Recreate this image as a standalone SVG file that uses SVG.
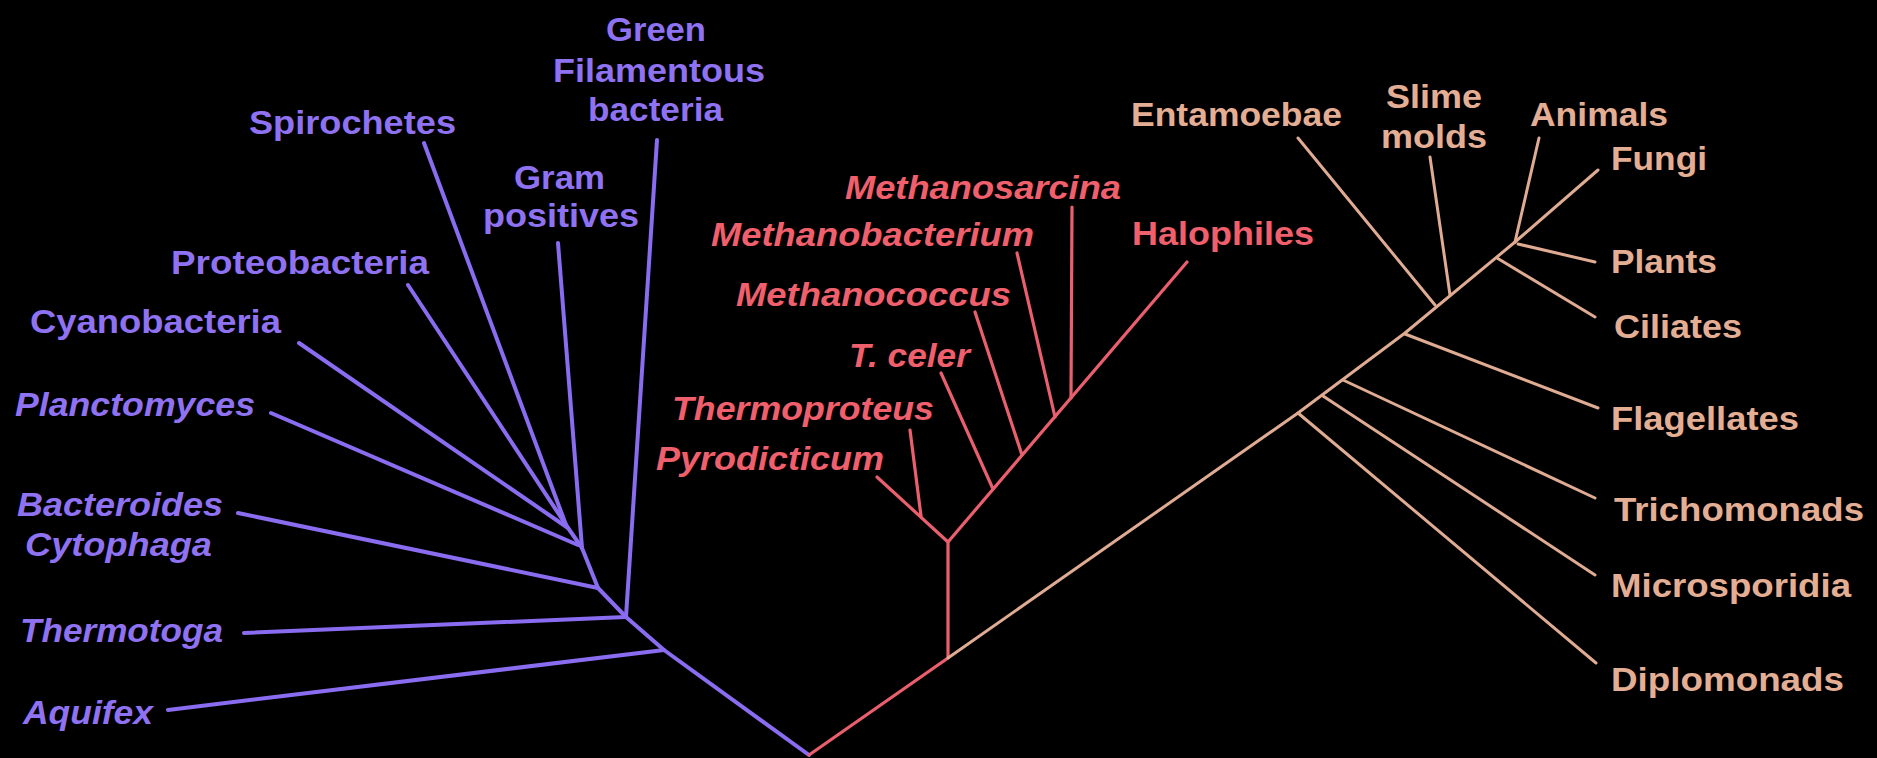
<svg xmlns="http://www.w3.org/2000/svg" width="1877" height="758" viewBox="0 0 1877 758">
<style>
text{font-family:"Liberation Sans",Arial,sans-serif;font-weight:bold;font-size:33px}
.i{font-style:italic}
.bac text{fill:#8f72f2}
.arc text{fill:#ef5f6c}
.euk text{fill:#e4ae94}
.lb{stroke:#8a6cf0;stroke-width:4;fill:none;stroke-linecap:round;stroke-linejoin:round}
.lr{stroke:#ea5f6e;stroke-width:3.2;fill:none;stroke-linecap:round;stroke-linejoin:round}
.le{stroke:#dfab92;stroke-width:3;fill:none;stroke-linecap:round;stroke-linejoin:round}
</style>
<rect width="1877" height="758" fill="#000"/>
<g id="connectors">
<polyline class="lb" points="809,755 664,650 626,617 598,588 582,548 566,525"/>
<line class="lb" x1="657" y1="140" x2="626" y2="617"/>
<line class="lb" x1="558" y1="243" x2="582" y2="548"/>
<line class="lb" x1="424" y1="143" x2="566" y2="525"/>
<line class="lb" x1="408" y1="285" x2="566" y2="525"/>
<line class="lb" x1="299" y1="343" x2="568" y2="528"/>
<line class="lb" x1="271" y1="413" x2="578" y2="545"/>
<line class="lb" x1="238" y1="513" x2="598" y2="588"/>
<line class="lb" x1="244" y1="633" x2="626" y2="617"/>
<line class="lb" x1="168" y1="710" x2="664" y2="650"/>
<polyline class="lr" points="809,755 948,658 948,542"/>
<polyline class="lr" points="877,477 948,542 1187,262"/>
<line class="lr" x1="910" y1="430" x2="921" y2="516"/>
<line class="lr" x1="941" y1="373" x2="993" y2="489"/>
<line class="lr" x1="975" y1="312" x2="1022" y2="455"/>
<line class="lr" x1="1017" y1="253" x2="1055" y2="417"/>
<line class="lr" x1="1072" y1="207" x2="1071" y2="398"/>
<polyline class="le" points="948,658 1298,413 1405,333 1515,242"/>
<line class="le" x1="1298" y1="138" x2="1435" y2="305"/>
<line class="le" x1="1430" y1="157" x2="1450" y2="295"/>
<line class="le" x1="1539" y1="138" x2="1515" y2="242"/>
<line class="le" x1="1598" y1="170" x2="1515" y2="242"/>
<line class="le" x1="1595" y1="262" x2="1518" y2="244"/>
<line class="le" x1="1595" y1="317" x2="1497" y2="258"/>
<line class="le" x1="1598" y1="408" x2="1405" y2="334"/>
<line class="le" x1="1595" y1="498" x2="1343" y2="380"/>
<line class="le" x1="1595" y1="575" x2="1323" y2="396"/>
<line class="le" x1="1596" y1="663" x2="1298" y2="413"/>
</g>
<g class="bac">
<g id="green-filamentous"><text x="606" y="41" textLength="100" lengthAdjust="spacingAndGlyphs">Green</text><text x="553" y="82" textLength="212" lengthAdjust="spacingAndGlyphs">Filamentous</text><text x="588" y="121" textLength="135" lengthAdjust="spacingAndGlyphs">bacteria</text></g>
<g id="spirochetes"><text x="249" y="134" textLength="207" lengthAdjust="spacingAndGlyphs">Spirochetes</text></g>
<g id="gram-positives"><text x="514" y="189" textLength="91" lengthAdjust="spacingAndGlyphs">Gram</text><text x="483" y="227" textLength="156" lengthAdjust="spacingAndGlyphs">positives</text></g>
<g id="proteobacteria"><text x="171" y="274" textLength="258" lengthAdjust="spacingAndGlyphs">Proteobacteria</text></g>
<g id="cyanobacteria"><text x="30" y="333" textLength="251" lengthAdjust="spacingAndGlyphs">Cyanobacteria</text></g>
<g id="planctomyces"><text class="i" x="15" y="416" textLength="240" lengthAdjust="spacingAndGlyphs">Planctomyces</text></g>
<g id="bacteroides"><text class="i" x="17" y="516" textLength="206" lengthAdjust="spacingAndGlyphs">Bacteroides</text><text class="i" x="25" y="556" textLength="187" lengthAdjust="spacingAndGlyphs">Cytophaga</text></g>
<g id="thermotoga"><text class="i" x="20" y="642" textLength="203" lengthAdjust="spacingAndGlyphs">Thermotoga</text></g>
<g id="aquifex"><text class="i" x="23" y="724" textLength="130" lengthAdjust="spacingAndGlyphs">Aquifex</text></g>
</g>
<g class="arc">
<g id="methanosarcina"><text class="i" x="845" y="199" textLength="276" lengthAdjust="spacingAndGlyphs">Methanosarcina</text></g>
<g id="methanobacterium"><text class="i" x="711" y="246" textLength="323" lengthAdjust="spacingAndGlyphs">Methanobacterium</text></g>
<g id="methanococcus"><text class="i" x="736" y="306" textLength="275" lengthAdjust="spacingAndGlyphs">Methanococcus</text></g>
<g id="t-celer"><text class="i" x="849" y="367" textLength="121" lengthAdjust="spacingAndGlyphs">T. celer</text></g>
<g id="thermoproteus"><text class="i" x="672" y="420" textLength="262" lengthAdjust="spacingAndGlyphs">Thermoproteus</text></g>
<g id="pyrodicticum"><text class="i" x="656" y="470" textLength="228" lengthAdjust="spacingAndGlyphs">Pyrodicticum</text></g>
<g id="halophiles"><text x="1132" y="245" textLength="182" lengthAdjust="spacingAndGlyphs">Halophiles</text></g>
</g>
<g class="euk">
<g id="entamoebae"><text x="1131" y="126" textLength="211" lengthAdjust="spacingAndGlyphs">Entamoebae</text></g>
<g id="slime-molds"><text x="1386" y="108" textLength="96" lengthAdjust="spacingAndGlyphs">Slime</text><text x="1381" y="148" textLength="106" lengthAdjust="spacingAndGlyphs">molds</text></g>
<g id="animals"><text x="1530" y="126" textLength="138" lengthAdjust="spacingAndGlyphs">Animals</text></g>
<g id="fungi"><text x="1611" y="170" textLength="96" lengthAdjust="spacingAndGlyphs">Fungi</text></g>
<g id="plants"><text x="1611" y="273" textLength="106" lengthAdjust="spacingAndGlyphs">Plants</text></g>
<g id="ciliates"><text x="1614" y="338" textLength="128" lengthAdjust="spacingAndGlyphs">Ciliates</text></g>
<g id="flagellates"><text x="1611" y="430" textLength="188" lengthAdjust="spacingAndGlyphs">Flagellates</text></g>
<g id="trichomonads"><text x="1614" y="521" textLength="250" lengthAdjust="spacingAndGlyphs">Trichomonads</text></g>
<g id="microsporidia"><text x="1611" y="597" textLength="240" lengthAdjust="spacingAndGlyphs">Microsporidia</text></g>
<g id="diplomonads"><text x="1611" y="691" textLength="233" lengthAdjust="spacingAndGlyphs">Diplomonads</text></g>
</g>
</svg>
